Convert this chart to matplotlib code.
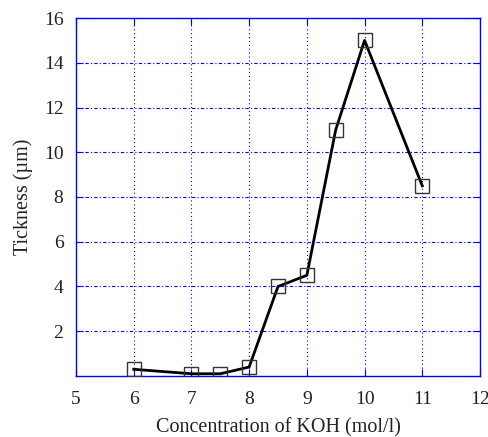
import matplotlib
matplotlib.use("Agg")
import matplotlib.pyplot as plt

conc = [6, 7, 7.5, 8, 8.5, 9, 9.5, 10, 11]
thickness = [0.3, 0.1, 0.1, 0.4, 4.0, 4.5, 11.0, 15.0, 8.5]
xticks = [5, 6, 7, 8, 9, 10, 11, 12]
yticks = [2, 4, 6, 8, 10, 12, 14, 16]

plt.rcParams['font.family'] = ['Liberation Serif', 'DejaVu Serif']
fig = plt.figure(figsize=(4.89, 4.37), dpi=100)
ax = fig.add_axes([0.1554, 0.1396, 0.8262, 0.8192])
blue = (0, 0, 1)
for x in xticks[1:-1]:
    ax.axvline(x, color=blue, lw=0.8, ls=(0, (1, 2.5)), zorder=1)
for y in yticks[:-1]:
    ax.axhline(y, color=blue, lw=0.8, ls=(0, (3, 2, 1, 2)), zorder=1)
ax.plot(conc, thickness, color='black', lw=2.0, marker='s', ms=10,
        mfc='none', mec='#333333', mew=1.0, zorder=3)
ax.set_xlim(5, 12)
ax.set_ylim(0, 16)
ax.set_xticks(xticks)
ax.set_yticks(yticks)
for s in ax.spines.values():
    s.set_color(blue)
    s.set_linewidth(1.0)
ax.tick_params(direction='in', colors=blue, labelcolor='#222222', length=5,
               top=True, right=True, labelsize=14)
ax.tick_params(axis='x', pad=11)
ax.tick_params(axis='y', pad=9)
ax.set_xlabel('Concentration of KOH (mol/l)', fontsize=14.5, color='#222222', labelpad=7)
ax.set_ylabel('Tickness (µm)', fontsize=14.5, color='#222222', labelpad=8)
fig.savefig('out.png', dpi=100)
